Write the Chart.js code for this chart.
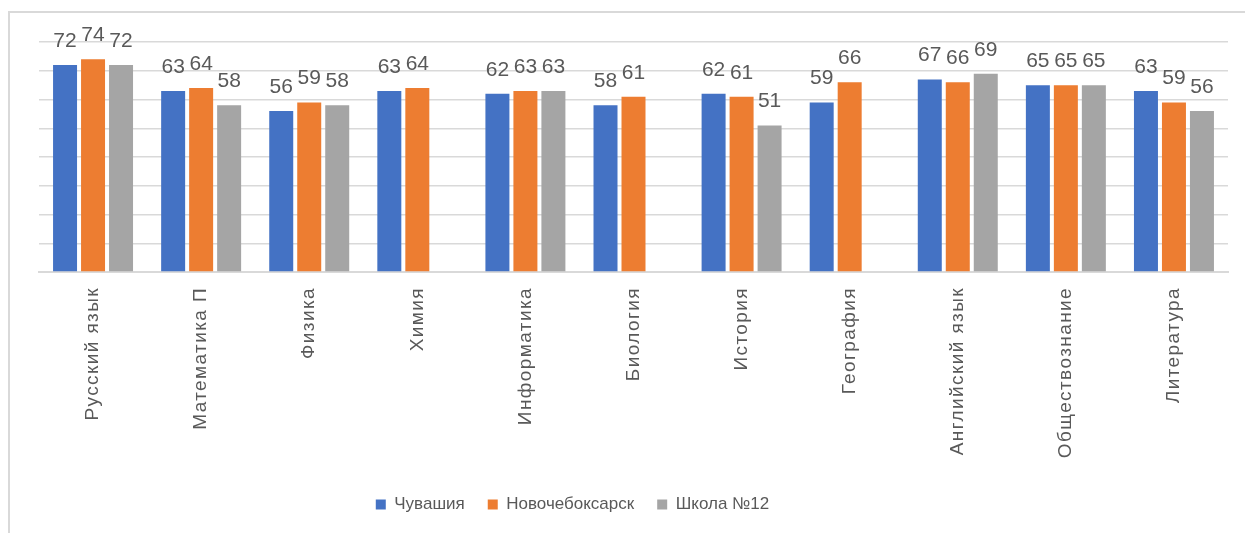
<!DOCTYPE html>
<html lang="ru">
<head>
<meta charset="utf-8">
<title>Средний балл по предметам</title>
<script src="https://cdn.jsdelivr.net/npm/chart.js@4.4.1/dist/chart.umd.min.js"></script>
<style>
  html, body { margin: 0; background: #fff; }
  .wrap { position: relative; width: 1245px; height: 533px; overflow: hidden; }
  .wrap canvas { position: absolute; left: 0; top: 0; }
  .frame { position: absolute; left: 8px; top: 11px; right: -10px; bottom: -10px; border: 2px solid #d9d9d9; pointer-events: none; }
</style>
</head>
<body>
<div class="wrap">
  <canvas id="scoreChart" width="1245" height="533"></canvas>
  <div class="frame"></div>
</div>
<script>
const subjects = ['Русский язык', 'Математика П', 'Физика', 'Химия', 'Информатика', 'Биология',
  'История', 'География', 'Английский язык', 'Обществознание', 'Литература'];
const chuvashia = [72, 63, 56, 63, 62, 58, 62, 59, 67, 65, 63];
const novocheb = [74, 64, 59, 64, 63, 61, 61, 66, 66, 65, 59];
const school12 = [72, 58, 58, null, 63, null, 51, null, 69, 65, 56];
const seriesNames = ['Чувашия', 'Новочебоксарск', 'Школа №12'];
const seriesColors = ['#4472C4', '#ED7D31', '#A5A5A5'];
const yMin = 0, yMax = 80, yStep = 10;

const FONT = '"Liberation Sans", Arial, sans-serif';
const TEXT = '#595959';

// numbers over each bar
const valueLabels = {
  id: 'valueLabels',
  afterDatasetsDraw(chart) {
    const { ctx } = chart;
    ctx.save();
    ctx.font = '21px ' + FONT;
    ctx.fillStyle = TEXT;
    ctx.textAlign = 'center';
    ctx.textBaseline = 'alphabetic';
    chart.data.datasets.forEach((ds, i) => {
      chart.getDatasetMeta(i).data.forEach((bar, j) => {
        const v = ds.data[j];
        if (v == null) return;
        ctx.fillText(String(v), bar.x, bar.y - 18);
      });
    });
    ctx.restore();
  }
};

// legend sits a bit left of the plot centre
const legendShift = {
  id: 'legendShift',
  afterLayout(chart) {
    if (!chart.legend) return;
    chart.legend.left -= 61;
    chart.legend.right -= 61;
  }
};

const ctx = document.getElementById('scoreChart').getContext('2d');
new Chart(ctx, {
  type: 'bar',
  data: {
    labels: subjects,
    datasets: [chuvashia, novocheb, school12].map((vals, i) => ({
      label: seriesNames[i],
      data: vals,
      backgroundColor: seriesColors[i],
      borderWidth: 0,
      categoryPercentage: 0.777,
      barPercentage: 0.857
    }))
  },
  options: {
    responsive: false,
    animation: false,
    layout: { padding: { top: 42, left: 39, right: 17, bottom: 10 } },
    plugins: {
      tooltip: { enabled: false },
      legend: {
        position: 'bottom',
        labels: {
          boxWidth: 10,
          boxHeight: 10,
          padding: 23,
          color: TEXT,
          font: { family: FONT, size: 17 }
        }
      }
    },
    scales: {
      x: {
        grid: { display: false, drawTicks: false },
        border: { color: '#d9d9d9', width: 2 },
        ticks: {
          autoSkip: false,
          minRotation: 90,
          maxRotation: 90,
          padding: 15,
          color: TEXT,
          font: { family: FONT, size: 19 }
        },
        afterFit(scale) { scale.height = 201; },
        afterUpdate(scale) {
          // spread the letters of the subject names a little
          if (scale._spaced) return;
          const draw = scale.drawLabels.bind(scale);
          scale.drawLabels = (area) => {
            scale.ctx.save();
            scale.ctx.letterSpacing = '1.4px';
            draw(area);
            scale.ctx.restore();
          };
          scale._spaced = true;
        }
      },
      y: {
        min: yMin,
        max: yMax,
        ticks: { display: false, stepSize: yStep },
        grid: { color: '#d9d9d9', lineWidth: 1.5, drawTicks: false },
        border: { display: false },
        afterFit(scale) { scale.width = 0; }
      }
    }
  },
  plugins: [valueLabels, legendShift]
});
</script>
</body>
</html>
